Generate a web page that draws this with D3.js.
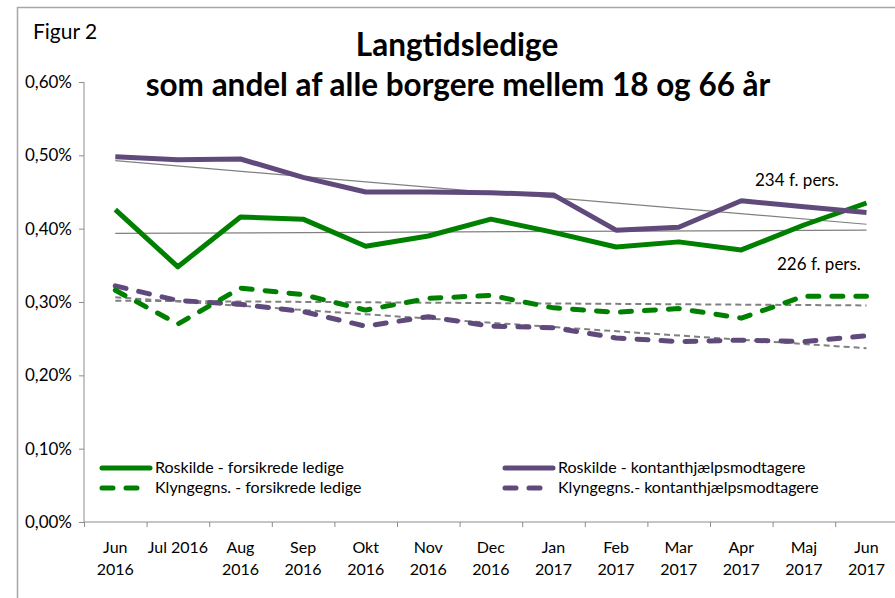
<!DOCTYPE html>
<html>
<head>
<meta charset="utf-8">
<script src="https://cdn.jsdelivr.net/npm/d3@7"></script>
<style>
  body { margin: 0; background: #fff; }
  svg text { font-family: Lato, "Liberation Sans", sans-serif; fill: #000; }
</style>
</head>
<body>
<script>
(function () {

var months = ["Jun 2016", "Jul 2016", "Aug 2016", "Sep 2016", "Okt 2016", "Nov 2016", "Dec 2016",
              "Jan 2017", "Feb 2017", "Mar 2017", "Apr 2017", "Maj 2017", "Jun 2017"]
// how each month label is broken over lines
var monthLines = [["Jun", "2016"], ["Jul 2016"], ["Aug", "2016"], ["Sep", "2016"], ["Okt", "2016"],
                  ["Nov", "2016"], ["Dec", "2016"], ["Jan", "2017"], ["Feb", "2017"], ["Mar", "2017"],
                  ["Apr", "2017"], ["Maj", "2017"], ["Jun", "2017"]]

// values in percent
var roskildeForsikrede = [0.426, 0.348, 0.416, 0.413, 0.376, 0.390, 0.413, 0.395, 0.375, 0.382, 0.371, 0.405, 0.435]
var roskildeKontant    = [0.498, 0.494, 0.495, 0.470, 0.450, 0.450, 0.449, 0.446, 0.398, 0.402, 0.438, 0.430, 0.422]
var klyngeForsikrede   = [0.316, 0.270, 0.319, 0.310, 0.289, 0.305, 0.309, 0.292, 0.286, 0.291, 0.278, 0.308, 0.308]
var klyngeKontant      = [0.322, 0.302, 0.297, 0.287, 0.267, 0.280, 0.267, 0.265, 0.251, 0.246, 0.248, 0.246, 0.254]

var yTicks = [0, 0.1, 0.2, 0.3, 0.4, 0.5, 0.6]

var series = [
  { name: "Roskilde - forsikrede ledige", values: roskildeForsikrede, color: "#008000", dashed: false, trendDash: null },
  { name: "Roskilde - kontanthjælpsmodtagere", values: roskildeKontant, color: "#604a7b", dashed: false, trendDash: null },
  { name: "Klyngegns. - forsikrede ledige", values: klyngeForsikrede, color: "#008000", dashed: true, trendDash: "6 4" },
  { name: "Klyngegns.- kontanthjælpsmodtagere", values: klyngeKontant, color: "#604a7b", dashed: true, trendDash: "6 4" }
]

var W = 895, H = 598
var left = 84, bottom = 522, top = 82
var step = 62.6

var svg = d3.select("body").append("svg")
  .attr("width", W)
  .attr("height", H)

// outer frame (only top and left visible)
svg.append("path")
  .attr("d", "M17.5," + H + " V7.5 H" + W)
  .attr("fill", "none")
  .attr("stroke", "#a6a6a6")
  .attr("stroke-width", 1.5)

var x = d3.scaleBand().domain(months).range([left, left + step * months.length]).padding(0)
var y = d3.scaleLinear().domain([0, 0.6]).range([bottom, top])

function cx(i) { return x(months[i]) + x.bandwidth() / 2 }

// y axis
var yAxis = d3.axisLeft(y)
  .tickValues(yTicks)
  .tickSize(5)
  .tickFormat(function (d) { return d.toFixed(2).replace(".", ",") + "%" })

var gy = svg.append("g").attr("transform", "translate(" + left + ",0)").call(yAxis)
gy.select(".domain").attr("stroke", "#8c8c8c").attr("d", "M0," + top + "V" + bottom)
gy.selectAll(".tick line").attr("stroke", "#8c8c8c")
gy.selectAll(".tick text")
  .attr("x", -12)
  .style("font-size", "17px")
  .style("font-family", "Lato, sans-serif")
  .attr("fill", "#000")

// x axis, ticks between categories
var gx = svg.append("g")
gx.append("line")
  .attr("x1", left).attr("x2", W)
  .attr("y1", bottom).attr("y2", bottom)
  .attr("stroke", "#8c8c8c")
gx.selectAll(".xt")
  .data(months)
  .enter().append("line")
  .attr("x1", function (d) { return x(d) + 0.5 })
  .attr("x2", function (d) { return x(d) + 0.5 })
  .attr("y1", bottom)
  .attr("y2", bottom + 5)
  .attr("stroke", "#8c8c8c")

var xl = gx.selectAll(".xl")
  .data(monthLines)
  .enter().append("text")
  .attr("text-anchor", "middle")
  .style("font-size", "16px")
xl.selectAll("tspan")
  .data(function (d, i) { return d.map(function (t) { return { t: t, i: i } }) })
  .enter().append("tspan")
  .attr("x", function (d) { return cx(d.i) })
  .attr("y", function (d, j) { return 553 + j * 22 })
  .text(function (d) { return d.t })

// trend lines (least squares)
function trend(vals) {
  var n = vals.length, mx = (n - 1) / 2, my = d3.mean(vals)
  var sxy = 0, sxx = 0
  vals.forEach(function (v, i) { sxy += (i - mx) * (v - my); sxx += (i - mx) * (i - mx) })
  var b = sxy / sxx
  return [my - b * mx, my + b * (n - 1 - mx)]
}

series.forEach(function (s) {
  var t = trend(s.values)
  svg.append("line")
    .attr("x1", cx(0)).attr("x2", cx(s.values.length - 1))
    .attr("y1", y(t[0])).attr("y2", y(t[1]))
    .attr("stroke", "#808080")
    .attr("stroke-width", s.dashed ? 2 : 1.2)
    .attr("stroke-dasharray", s.trendDash)
})

var line = d3.line()
  .x(function (d, i) { return cx(i) })
  .y(function (d) { return y(d) })

// draw dashed first, then solid
var order = [series[3], series[2], series[0], series[1]]
order.forEach(function (s) {
  svg.append("path")
    .datum(s.values)
    .attr("d", line)
    .attr("fill", "none")
    .attr("stroke", s.color)
    .attr("stroke-width", 5)
    .attr("stroke-linejoin", "round")
    .attr("stroke-linecap", s.dashed ? "round" : "butt")
    .attr("stroke-dasharray", s.dashed ? "11 13" : null)
})

// annotations
svg.append("text").attr("x", 755).attr("y", 186).style("font-size", "17px").text("234 f. pers.")
svg.append("text").attr("x", 777).attr("y", 270).style("font-size", "17px").text("226 f. pers.")

// legend
var legendPos = [[100, 468], [503, 468], [100, 488], [503, 488]]
series.forEach(function (s, i) {
  var p = legendPos[i]
  svg.append("line")
    .attr("x1", p[0] + 2).attr("x2", p[0] + 50)
    .attr("y1", p[1]).attr("y2", p[1])
    .attr("stroke", s.color)
    .attr("stroke-width", 5)
    .attr("stroke-linecap", "round")
    .attr("stroke-dasharray", s.dashed ? "11 13" : null)
  svg.append("text")
    .attr("x", p[0] + 55)
    .attr("y", p[1] + 5)
    .style("font-size", "16px")
    .text(s.name)
})

// titles
svg.append("text").attr("x", 33).attr("y", 39).style("font-size", "21px").text("Figur 2")
svg.append("text").attr("x", 457).attr("y", 56).attr("text-anchor", "middle")
  .style("font-size", "31.5px").style("font-weight", "bold").text("Langtidsledige")
svg.append("text").attr("x", 458).attr("y", 96).attr("text-anchor", "middle")
  .style("font-size", "31.5px").style("font-weight", "bold").text("som andel af alle borgere mellem 18 og 66 år")

})()
</script>
</body>
</html>
